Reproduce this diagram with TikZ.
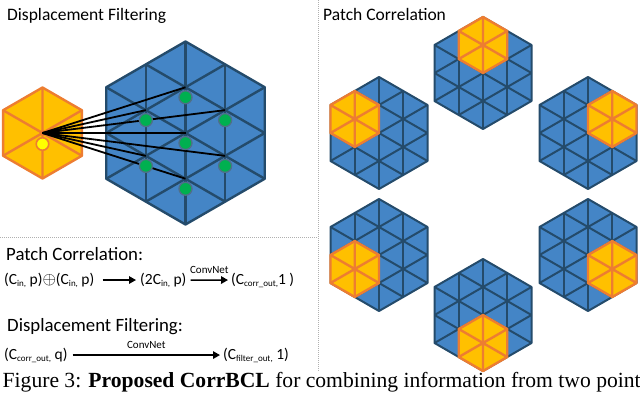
\documentclass[tikz,border=0pt]{standalone}
\usepackage{fontspec}
\setmainfont{Carlito}
\newfontfamily\capfont{Liberation Serif}
\usetikzlibrary{arrows.meta}
\definecolor{hexblue}{HTML}{4485C6}
\definecolor{hexedge}{HTML}{244B6B}
\definecolor{orfill}{HTML}{FFC000}
\definecolor{oredge}{HTML}{ED7D31}
\definecolor{dotgreen}{HTML}{00B050}
\definecolor{divgray}{HTML}{B0B0B0}
\definecolor{dotyellow}{HTML}{FFFF00}
\newcommand\hexlattice[4]{% cx, cy, R, line width
  \begin{scope}[shift={(#1,#2)}]
    \pgfmathsetmacro\hh{#3*0.4330127}
    \pgfmathsetmacro\vv{#3*0.75}
    \fill[hexblue] (90:#3) -- (150:#3) -- (210:#3) -- (270:#3) -- (330:#3) -- (30:#3) -- cycle;
    \foreach \a in {0,60,120}{
      \draw[hexedge,line width=#4,rotate=\a] (0,-#3) -- (0,#3) (\hh,-\vv) -- (\hh,\vv) (-\hh,-\vv) -- (-\hh,\vv);
    }
    \draw[hexedge,line width=#4,line join=round] (90:#3) -- (150:#3) -- (210:#3) -- (270:#3) -- (330:#3) -- (30:#3) -- cycle;
  \end{scope}}
\newcommand\orangehex[4]{% cx, cy, R, line width
  \begin{scope}[shift={(#1,#2)}]
    \fill[orfill] (90:#3) -- (150:#3) -- (210:#3) -- (270:#3) -- (330:#3) -- (30:#3) -- cycle;
    \draw[oredge,line width=#4] (90:#3) -- (270:#3) (30:#3) -- (210:#3) (150:#3) -- (330:#3);
    \draw[oredge,line width=#4,line join=round] (90:#3) -- (150:#3) -- (210:#3) -- (270:#3) -- (330:#3) -- (30:#3) -- cycle;
  \end{scope}}
\newcommand\lowsub[1]{\raisebox{-2.2pt}{\fontsize{9}{10}\selectfont #1}}
\newcommand\myoplus{\raisebox{-0.3pt}{\fontsize{17}{17}\selectfont$\oplus$}}
\tikzset{
  title/.style={anchor=base west,inner sep=0pt,font=\fontsize{17.5}{20}\selectfont},
  head/.style={anchor=base west,inner sep=0pt,font=\fontsize{18.8}{21}\selectfont},
  formula/.style={anchor=base west,inner sep=0pt,font=\fontsize{15.5}{17}\selectfont},
  convlbl/.style={inner sep=0pt,above=5.5pt,font=\fontsize{11}{13}\selectfont},
  arr/.style={line width=1.5pt,-{Triangle[length=7pt,width=7.5pt]}},
  link/.style={line width=1.8pt,black},
  gdot/.style={circle,fill=dotgreen,draw=hexedge!80,line width=1.3pt,minimum size=13pt,inner sep=0pt},
  ydot/.style={circle,fill=dotyellow,draw=oredge,line width=1.6pt,minimum size=12.5pt,inner sep=0pt},
  divider/.style={divgray,line width=0.9pt,dash pattern=on 1pt off 1pt},
}
\begin{document}
\begin{tikzpicture}[x=1pt,y=-1pt]
\useasboundingbox (0,0) rectangle (640,394);
\fill[white] (0,0) rectangle (640,394);
% dividers
\coordinate (dvt) at (318,0);
\coordinate (dvb) at (318,371);
\coordinate (dhl) at (0,237.5);
\coordinate (dhr) at (318,237.5);
\draw[divider] (dvt) -- (dvb);
\draw[divider] (dhl) -- (dhr);
% titles
\node[title] (t1) at (7,20.7) {Displacement Filtering};
\node[title] (t2) at (323,20.7) {Patch Correlation};
% displacement filtering graphic
\hexlattice{185.5}{133}{91.5}{2.4pt}
\orangehex{42.5}{133}{45.5}{2.4pt}
\coordinate (src) at (42.5,133);
\coordinate (vT) at (185.5,87.25);
\coordinate (vUL) at (145.88,110.12);
\coordinate (vUR) at (225.12,110.12);
\coordinate (vC) at (185.5,133);
\coordinate (vLL) at (145.88,155.88);
\coordinate (vLR) at (225.12,155.88);
\coordinate (vB) at (185.5,178.75);
\foreach \v in {vT,vUL,vUR,vC,vLL,vLR,vB}{\draw[link] (src) -- (\v);}
\node[gdot] (gT) at (185.5,97.25) {};
\node[gdot] (gUL) at (145.88,120.12) {};
\node[gdot] (gUR) at (225.12,120.12) {};
\node[gdot] (gC) at (185.5,143) {};
\node[gdot] (gLL) at (145.88,165.88) {};
\node[gdot] (gLR) at (225.12,165.88) {};
\node[gdot] (gB) at (185.5,188.75) {};
\node[ydot] (yd) at (42.5,144) {};
% patch correlation graphic
\hexlattice{483}{73}{56}{2pt}
\orangehex{483}{45}{28}{2.4pt}
\hexlattice{379}{133}{56}{2pt}
\orangehex{354.75}{119}{28}{2.4pt}
\hexlattice{588}{133}{56}{2pt}
\orangehex{612.25}{119}{28}{2.4pt}
\hexlattice{379}{255}{56}{2pt}
\orangehex{354.75}{269}{28}{2.4pt}
\hexlattice{588}{255}{56}{2pt}
\orangehex{612.25}{269}{28}{2.4pt}
\hexlattice{483}{315}{56}{2pt}
\orangehex{483}{343}{28}{2.4pt}
% formulas
\node[head] (h1) at (6,260) {Patch Correlation:};
\node[formula] (f1a) at (4,284) {(C\lowsub{in,} p)\myoplus(C\lowsub{in,} p)};
\node[formula] (f1b) at (140,284) {(2C\lowsub{in,} p)};
\node[formula] (f1c) at (231,284) {(C\lowsub{corr\_out,}1 )};
\draw[arr] ([xshift=8pt]f1a.east) -- ([xshift=-4pt]f1b.west);
\draw[arr] ([xshift=4pt]f1b.east) -- node[convlbl] (cn1) {ConvNet} ([xshift=-3pt]f1c.west);
\node[head] (h2) at (7,331) {Displacement Filtering:};
\node[formula] (f2a) at (4,359) {(C\lowsub{corr\_out,} q)};
\node[formula] (f2b) at (223,359) {(C\lowsub{filter\_out,} 1)};
\draw[arr] ([xshift=5pt]f2a.east) -- node[convlbl] (cn2) {ConvNet} ([xshift=-3pt]f2b.west);
% caption
\node[anchor=base west,inner sep=0pt,font=\capfont\fontsize{21.6}{24}\selectfont] (cap) at (2.5,387) {Figure 3: \textbf{Proposed CorrBCL} for combining information from two point};
\end{tikzpicture}
\end{document}
